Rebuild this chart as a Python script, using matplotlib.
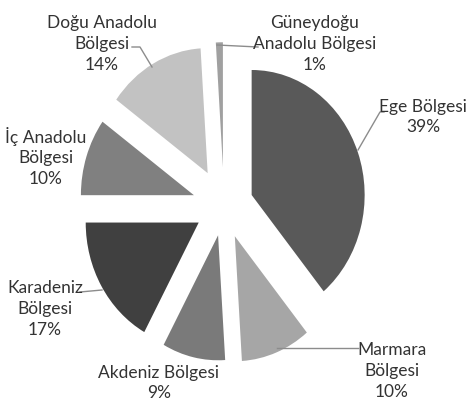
import matplotlib.pyplot as plt

# regions, clockwise from 12 o'clock
regions = ["Ege Bölgesi", "Marmara\nBölgesi", "Akdeniz Bölgesi", "Karadeniz\nBölgesi",
           "İç Anadolu\nBölgesi", "Doğu Anadolu\nBölgesi", "Güneydoğu\nAnadolu Bölgesi"]
shares = [39, 10, 9, 17, 10, 14, 1]
colors = ["#595959", "#a6a6a6", "#7a7a7a", "#404040", "#808080", "#c2c2c2", "#a0a0a0"]
explode = [0.26, 0.26, 0.24, 0.26, 0.28, 0.30, 0.31]

# pie centre and radii in pixels (the original is stretched vertically)
CX, CY, RX, RY = 224, 206, 113, 125
W, H = 467, 405


def px(x, y):
    """pixel position (top-left origin) -> data coords"""
    return (x - CX) / RX, (CY - y) / RY


# label centres in pixels and leader lines
label_pos = [(423, 117), (392, 371), (159, 383), (45, 309), (46, 157), (102, 44), (315, 44)]
leaders = {
    0: [(384, 112), (380, 112), (358, 150)],
    1: [(358, 348), (277, 348)],
    3: [(80, 292), (102, 290)],
    5: [(132, 47), (140, 47), (152, 67)],
    6: [(258, 47), (217, 45)],
}

plt.rcParams['font.family'] = ['Lato', 'DejaVu Sans']

fig = plt.figure(figsize=(W / 100, H / 100), dpi=100)
ax = fig.add_axes([0, 0, 1, 1])
ax.pie(shares, colors=colors, explode=explode, startangle=90, counterclock=False,
       radius=1, wedgeprops=dict(linewidth=0))
ax.set_aspect('auto')
ax.set_xlim(-CX / RX, (W - CX) / RX)
ax.set_ylim(-(H - CY) / RY, CY / RY)
ax.axis('off')

for i, (name, val) in enumerate(zip(regions, shares)):
    x, y = px(*label_pos[i])
    ax.text(x, y, f"{name}\n{val}%", ha='center', va='center', fontsize=12.5,
            color='#333333', linespacing=1.38)

for pts in leaders.values():
    xs, ys = zip(*[px(*p) for p in pts])
    ax.plot(xs, ys, color='#8c8c8c', lw=1)

fig.savefig("out.png", dpi=100)
